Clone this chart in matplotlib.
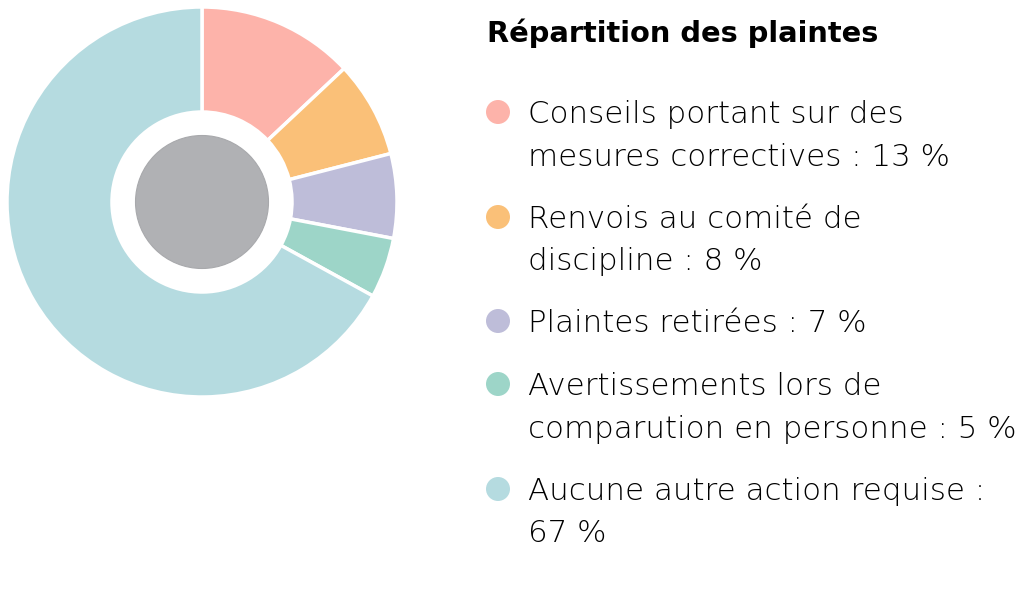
import matplotlib.pyplot as plt
from matplotlib.patches import Circle

# Data
labels = [
    ["Conseils portant sur des", "mesures correctives : 13 %"],
    ["Renvois au comité de", "discipline : 8 %"],
    ["Plaintes retirées : 7 %"],
    ["Avertissements lors de", "comparution en personne : 5 %"],
    ["Aucune autre action requise :", "67 %"],
]
values = [13, 8, 7, 5, 67]
colors = ['#FDB3AA', '#FAC078', '#BEBDD9', '#9DD5C8', '#B5DBE0']
title = "Répartition des plaintes"

W, H = 1022, 599
fig = plt.figure(figsize=(W / 100, H / 100), dpi=100)
ax = fig.add_axes([0, 0, 1, 1])

# Donut (pixel coordinates, y measured from top)
cx, cy = 202, 202
ax.pie(values, colors=colors, startangle=90, counterclock=False,
       radius=195, center=(cx, H - cy),
       wedgeprops=dict(width=105, edgecolor='white', linewidth=2.5))
ax.add_patch(Circle((cx, H - cy), 66.5, facecolor='#B0B1B4',
                    edgecolor='#A8A9AC', linewidth=0.8))

ax.set_xlim(0, W)
ax.set_ylim(0, H)
ax.set_aspect('equal')
ax.axis('off')

# Title
ax.text(487, H - 42, title, fontsize=20.8, fontweight='bold',
        fontfamily='DejaVu Sans', color='#000000', va='baseline', ha='left')

# Legend
first_baselines = [123, 228, 332, 395, 500]
line_gap = 42.5
for lab, col, base in zip(labels, colors, first_baselines):
    ax.add_patch(Circle((498, H - (base - 11)), 12, facecolor=col,
                        edgecolor='none'))
    for i, line in enumerate(lab):
        ax.text(528, H - (base + i * line_gap), line, fontsize=22.2,
                fontfamily='DejaVu Sans', fontweight='light', color='#000000',
                va='baseline', ha='left')

fig.savefig('out.png', dpi=100, facecolor='white')
